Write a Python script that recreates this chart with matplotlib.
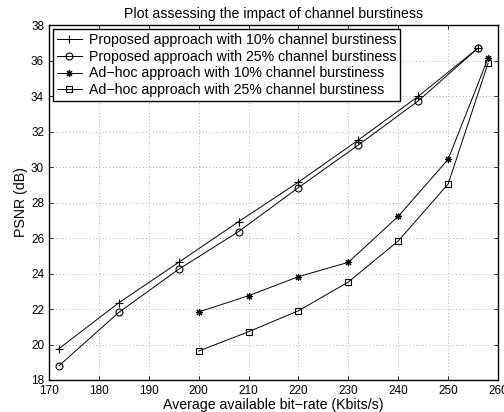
import matplotlib
matplotlib.use("Agg")
import matplotlib.pyplot as plt

plt.rcParams['font.family'] = ['Liberation Sans', 'DejaVu Sans']

x_prop = [172, 184, 196, 208, 220, 232, 244, 256]
y_prop10 = [19.77, 22.35, 24.63, 26.92, 29.15, 31.52, 33.98, 36.7]
y_prop25 = [18.8, 21.81, 24.24, 26.36, 28.84, 31.24, 33.72, 36.7]

x_adhoc = [200, 210, 220, 230, 240, 250, 258]
y_adhoc10 = [21.83, 22.75, 23.82, 24.63, 27.22, 30.43, 36.12]
y_adhoc25 = [19.63, 20.72, 21.9, 23.52, 25.83, 29.04, 35.84]

labels = ["Proposed approach with 10% channel burstiness",
          "Proposed approach with 25% channel burstiness",
          "Ad\u2212hoc approach with 10% channel burstiness",
          "Ad\u2212hoc approach with 25% channel burstiness"]

fig = plt.figure(figsize=(5.04, 4.12), dpi=100)
ax = fig.add_axes([49/504, 1-380/412, (498-49)/504, (380-25)/412])

kw = dict(color='black', linewidth=0.7, markerfacecolor='none', markeredgecolor='black',
          markeredgewidth=0.8)
ax.plot(x_prop, y_prop10, marker='+', markersize=6, label=labels[0], **kw)
ax.plot(x_prop, y_prop25, marker='o', markersize=5, label=labels[1], **kw)
ax.plot(x_adhoc, y_adhoc10, marker=(8, 2, 0), markersize=5, label=labels[2], **kw)
ax.plot(x_adhoc, y_adhoc25, marker='s', markersize=4.5, label=labels[3], **kw)

ax.set_xlim(170, 260)
ax.set_ylim(18, 38)
ax.set_xticks(range(170, 261, 10))
ax.set_yticks(range(18, 39, 2))
ax.tick_params(direction='in', top=True, right=True, labelsize=8.5, length=3, width=0.6)
ax.grid(True, linestyle=(0, (1, 3)), color='#999999', linewidth=0.6)
for s in ax.spines.values():
    s.set_linewidth(1.0)

ax.set_title("Plot assessing the impact of channel burstiness", fontsize=10.2, pad=5)
ax.set_xlabel("Average available bit\u2212rate (Kbits/s)", fontsize=10.2, labelpad=1)
ax.set_ylabel("PSNR (dB)", fontsize=10.2, labelpad=2)

leg = ax.legend(loc='upper left', fontsize=10.2, frameon=True, fancybox=False,
                edgecolor='black', framealpha=1, handlelength=1.76, handletextpad=0.5,
                borderpad=0.25, labelspacing=0.2, borderaxespad=0.3)
leg.get_frame().set_linewidth(1.0)

fig.savefig("out.png", dpi=100)
